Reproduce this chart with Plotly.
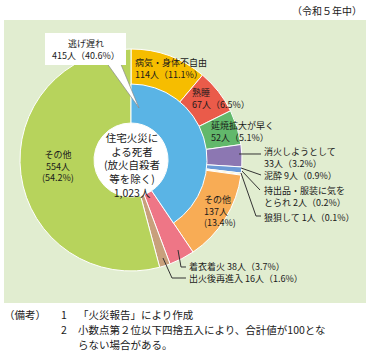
import plotly.graph_objects as go

W, H = 370, 353
FONT = "Noto Sans CJK JP"

# data
outer_labels = ["病気・身体不自由", "熟睡", "延焼拡大が早く", "消火しようとして", "泥酔",
                "持出品・服装に気をとられ", "狼狽して", "その他(逃げ遅れ)", "着衣着火", "出火後再進入", "その他"]
outer_values = [114, 67, 52, 33, 9, 2, 1, 137, 38, 16, 554]
outer_colors = ["#F6BD00", "#EA5B4A", "#62B86B", "#8C77B2", "#6B9AD6",
                "#E8E27A", "#F4D6A0", "#F8AC55", "#EE7686", "#C8A07C", "#B7D35C"]
inner_labels = ["逃げ遅れ", "残り"]
inner_values = [415, 608]
inner_colors = ["#5AB4E5", "rgba(0,0,0,0)"]

title_text = "（令和５年中）"
center_text = "住宅火災に<br>よる死者<br>(放火自殺者<br>等を除く)<br>1,023人"
notes = [("（備考）", "1", "「火災報告」により作成"),
         ("", "2", "小数点第２位以下四捨五入により、合計値が100とな"),
         ("", "", "らない場合がある。")]

# label blocks (text, x, y-center, anchor)
label_items = [
    ("逃げ遅れ<br>415人（40.6%）", 86, 49.5, "center"),
    ("病気・身体不自由<br>114人（11.1%）", 134, 68.5, "left"),
    ("熟睡<br>67人（6.5%）", 191, 98.5, "left"),
    ("延焼拡大が早く<br>52人（5.1%）", 210, 131, "left"),
    ("消火しようとして<br>33人（3.2%）", 263, 157, "left"),
    ("泥酔 9人（0.9%）", 263, 175, "left"),
    ("持出品・服装に気を<br>とられ 2人（0.2%）", 263, 196, "left"),
    ("狼狽して 1人（0.1%）", 263, 217, "left"),
    ("その他<br>137人<br>(13.4%)", 203, 210.5, "left"),
    ("着衣着火 38人（3.7%）<br>出火後再進入 16人（1.6%）", 188, 272.5, "left"),
    ("その他<br>554人<br>(54.2%)", 58, 165.5, "center"),
]


def px(x, y):
    return x / W, 1 - y / H


CX, CY = 131, 160
R_OUT, R_MID, R_IN = 111, 76, 37


def dom(r):
    x0, y0 = px(CX - r, CY + r)
    x1, y1 = px(CX + r, CY - r)
    return dict(x=[x0, x1], y=[y0, y1])


fig = go.Figure()
fig.add_trace(go.Pie(values=outer_values, labels=outer_labels, sort=False, direction="clockwise",
                     rotation=0, hole=R_IN / R_OUT, domain=dom(R_OUT), textinfo="none",
                     marker=dict(colors=outer_colors, line=dict(color="white", width=1)),
                     showlegend=False, hoverinfo="label+value"))
fig.add_trace(go.Pie(values=inner_values, labels=inner_labels, sort=False, direction="clockwise",
                     rotation=0, hole=R_IN / R_MID, domain=dom(R_MID), textinfo="none",
                     marker=dict(colors=inner_colors, line=dict(color=["white", "rgba(0,0,0,0)"], width=[1, 0])),
                     showlegend=False, hoverinfo="label+value"))

shapes = []
# panel
x0, y0 = px(4, 303)
x1, y1 = px(366, 20)
shapes.append(dict(type="rect", xref="paper", yref="paper", x0=x0, y0=y0, x1=x1, y1=y1,
                   fillcolor="#E1EDD0", line=dict(width=0), layer="below"))
# hole
a0, b0 = px(CX - R_IN, CY + R_IN)
a1, b1 = px(CX + R_IN, CY - R_IN)
shapes.append(dict(type="circle", xref="paper", yref="paper", x0=a0, y0=b0, x1=a1, y1=b1,
                   fillcolor="white", line=dict(width=0), layer="below"))


def path(pts, close=False):
    s = ""
    for i, (x, y) in enumerate(pts):
        X, Y = px(x, y)
        s += ("M" if i == 0 else "L") + f"{X:.5f},{Y:.5f}"
    if close:
        s += "Z"
    return s


# callout wedge + box
shapes.append(dict(type="path", xref="paper", yref="paper",
                   path=path([(106, 62), (120, 62), (139, 108)], True),
                   fillcolor="white", line=dict(color="#888888", width=0.7), layer="above"))
bx0, by0 = px(45, 65)
bx1, by1 = px(126, 33)
shapes.append(dict(type="rect", xref="paper", yref="paper", x0=bx0, y0=by0, x1=bx1, y1=by1,
                   fillcolor="white", line=dict(width=0), layer="above"))

leaders = [
    [(239, 154), (261, 154)],
    [(241, 168), (261, 175)],
    [(242, 171), (260, 190)],
    [(241, 173), (256, 216), (261, 216)],
    [(178, 250), (181, 267), (186, 267)],
    [(163, 258), (172, 278), (186, 278)],
]
for pts in leaders:
    shapes.append(dict(type="path", xref="paper", yref="paper", path=path(pts),
                       line=dict(color="#333333", width=1), layer="above"))

ann = []
for t, x, y, anc in label_items:
    X, Y = px(x, y)
    ann.append(dict(text=t, x=X, y=Y, xref="paper", yref="paper", xanchor=anc, yanchor="middle",
                    align=anc, showarrow=False, borderpad=0,
                    font=dict(family=FONT, size=9, color="#1a1a1a")))
X, Y = px(132, 164.5)
ann.append(dict(text=center_text, x=X, y=Y, xref="paper", yref="paper", xanchor="center", yanchor="middle",
                align="center", showarrow=False, borderpad=0,
                font=dict(family=FONT, size=10.5, color="#1a1a1a")))
X, Y = px(364, 10)
ann.append(dict(text=title_text, x=X, y=Y, xref="paper", yref="paper", xanchor="right", yanchor="middle",
                showarrow=False, font=dict(family=FONT, size=10, color="#1a1a1a")))
for i, (a, n, t) in enumerate(notes):
    yy = 314 + i * 15.3
    for txt, xx in ((a, 3), (n, 60), (t, 77)):
        if txt:
            X, Y = px(xx, yy)
            ann.append(dict(text=txt, x=X, y=Y, xref="paper", yref="paper", xanchor="left", yanchor="middle",
                            showarrow=False, borderpad=0,
                            font=dict(family=FONT, size=10.5, color="#1a1a1a")))

fig.update_layout(width=W, height=H, margin=dict(l=0, r=0, t=0, b=0), paper_bgcolor="white",
                  plot_bgcolor="white", shapes=shapes, annotations=ann, showlegend=False)
fig.write_html("out.html")
